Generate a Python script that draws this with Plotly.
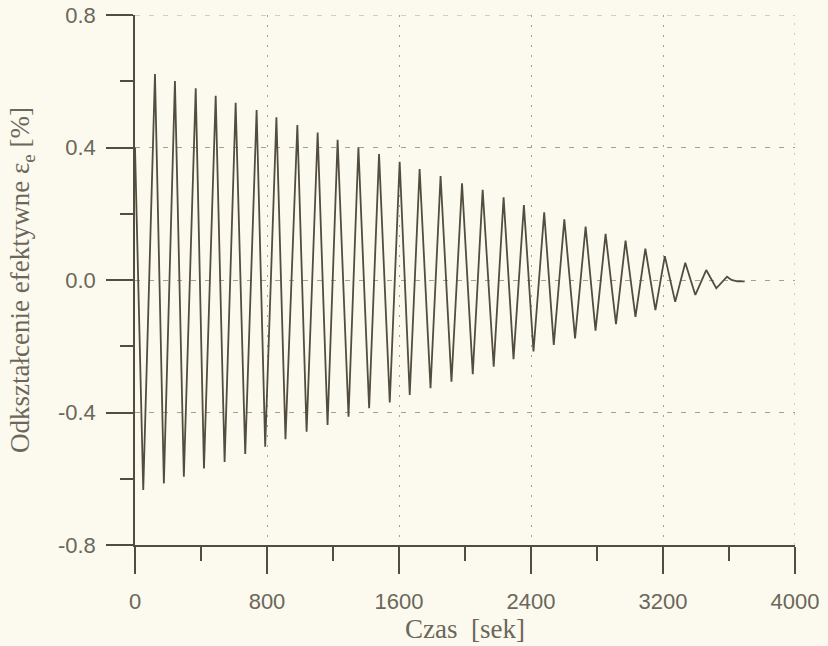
import plotly.graph_objects as go

# Peaks (time in s, strain in %)
peak_t = [121, 242, 368, 489, 610, 737, 857, 984, 1107, 1228, 1354, 1479, 1604, 1725,
          1852, 1982, 2107, 2234, 2357, 2480, 2602, 2731, 2852, 2973, 3093, 3211, 3335,
          3462, 3588]
peak_v = [0.622, 0.601, 0.579, 0.556, 0.535, 0.513, 0.491, 0.468, 0.445, 0.423, 0.401,
          0.380, 0.357, 0.335, 0.314, 0.292, 0.272, 0.250, 0.226, 0.204, 0.183, 0.161,
          0.139, 0.119, 0.095, 0.072, 0.052, 0.030, 0.010]
# Troughs
trough_t = [50, 175, 296, 418, 543, 668, 789, 912, 1040, 1167, 1294, 1419, 1544, 1665,
            1791, 1918, 2047, 2174, 2294, 2415, 2538, 2667, 2791, 2915, 3033, 3154, 3274,
            3396, 3523]
trough_v = [-0.634, -0.614, -0.594, -0.569, -0.549, -0.525, -0.503, -0.481, -0.458,
            -0.438, -0.413, -0.387, -0.370, -0.347, -0.327, -0.307, -0.284, -0.262,
            -0.239, -0.216, -0.196, -0.176, -0.153, -0.133, -0.111, -0.091, -0.066,
            -0.045, -0.025]
start_t, start_v = [0], [0.40]
tail_t = [3615, 3650, 3695]
tail_v = [0.000, -0.004, -0.004]

x_tick_vals = [0, 800, 1600, 2400, 3200, 4000]
x_tick_text = ["0", "800", "1600", "2400", "3200", "4000"]
y_tick_vals = [-0.8, -0.4, 0.0, 0.4, 0.8]
y_tick_text = ["-0.8", "-0.4", "0.0", "0.4", "0.8"]
x_range = [0, 4000]
y_range = [-0.8, 0.8]

# Build the time series by interleaving troughs and peaks
t = list(start_t)
v = list(start_v)
for i in range(len(peak_t)):
    t += [trough_t[i], peak_t[i]]
    v += [trough_v[i], peak_v[i]]
t += tail_t
v += tail_v

bg = "#fcfaee"
ink = "#524d3e"
txt = "#6b675a"
grid = "#a3a093"
xdash = "2px,8px"
ydash = "5px,9px"

fig = go.Figure()
fig.add_trace(go.Scatter(x=t, y=v, mode="lines",
                         line=dict(color=ink, width=1.8), showlegend=False,
                         hoverinfo="skip"))

# Gridlines at the far ends of the ranges (top and right), which plotly omits
fig.add_shape(type="line", xref="paper", x0=0, x1=1, yref="y",
              y0=y_range[1], y1=y_range[1], line=dict(color=grid, width=1, dash=ydash),
              layer="below")
fig.add_shape(type="line", yref="paper", y0=0, y1=1, xref="x",
              x0=x_range[1], x1=x_range[1], line=dict(color=grid, width=1, dash=xdash),
              layer="below")

fig.update_layout(
    width=828, height=646,
    margin=dict(l=135, r=33, t=15, b=101),
    paper_bgcolor=bg, plot_bgcolor=bg,
    xaxis=dict(
        range=x_range, tickmode="array", tickvals=x_tick_vals, ticktext=x_tick_text,
        automargin=False,
        showline=True, linecolor=ink, linewidth=1.5,
        ticks="outside", ticklen=27, tickwidth=1.5, tickcolor=ink,
        minor=dict(ticks="outside", ticklen=14, tickwidth=1.5, tickcolor=ink,
                   dtick=400, tick0=0, showgrid=False),
        showgrid=True, gridcolor=grid, griddash=xdash, gridwidth=1,
        zeroline=False,
        tickfont=dict(family="Liberation Sans, Arial, sans-serif", size=22, color=txt),
        ticklabelstandoff=9,
        title=dict(text="Czas\u00a0\u00a0[sek]", standoff=6,
                   font=dict(family="Liberation Serif, Times New Roman, serif",
                             size=27, color=txt)),
    ),
    yaxis=dict(
        range=y_range, tickmode="array", tickvals=y_tick_vals, ticktext=y_tick_text,
        automargin=False,
        showline=True, linecolor=ink, linewidth=1.5,
        ticks="outside", ticklen=27, tickwidth=1.5, tickcolor=ink,
        minor=dict(ticks="outside", ticklen=13, tickwidth=1.5, tickcolor=ink,
                   dtick=0.2, tick0=0, showgrid=False),
        showgrid=True, gridcolor=grid, griddash=ydash, gridwidth=1,
        zeroline=False,
        tickfont=dict(family="Liberation Sans, Arial, sans-serif", size=22, color=txt),
        ticklabelstandoff=6,
        title=dict(text="Odkształcenie efektywne ε<sub>e</sub> [%]", standoff=20,
                   font=dict(family="Liberation Serif, Times New Roman, serif",
                             size=27, color=txt)),
    ),
)

fig.write_html("out.html")
